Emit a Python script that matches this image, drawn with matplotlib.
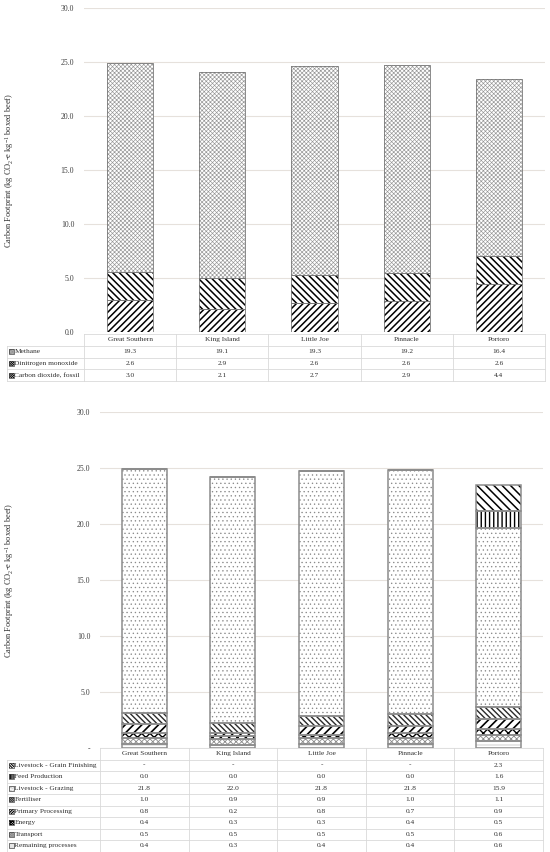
import numpy as np
import matplotlib
matplotlib.use("Agg")
import matplotlib.pyplot as plt
from matplotlib.patches import Rectangle

plt.rcParams['font.family'] = ['Liberation Serif', 'DejaVu Serif']
plt.rcParams['mathtext.fontset'] = 'custom'
plt.rcParams['mathtext.rm'] = 'Liberation Serif'
plt.rcParams['mathtext.it'] = 'Liberation Serif:italic'

# Datos
sitios = ["Great Southern", "King Island", "Little Joe", "Pinnacle", "Portoro"]

# grafico superior (por gas)
co2_fosil = [3.0, 2.1, 2.7, 2.9, 4.4]
n2o = [2.6, 2.9, 2.6, 2.6, 2.6]
metano = [19.3, 19.1, 19.3, 19.2, 16.4]

# grafico inferior (por proceso)
resto = [0.4, 0.3, 0.4, 0.4, 0.6]
transporte = [0.5, 0.5, 0.5, 0.5, 0.6]
energia = [0.4, 0.3, 0.3, 0.4, 0.5]
procesamiento = [0.8, 0.2, 0.8, 0.7, 0.9]
fertilizante = [1.0, 0.9, 0.9, 1.0, 1.1]
pastoreo = [21.8, 22.0, 21.8, 21.8, 15.9]
alimento = [0.0, 0.0, 0.0, 0.0, 1.6]
engorde = [np.nan, np.nan, np.nan, np.nan, 2.3]

etiqueta_y = "Carbon Footprint (kg CO$_2$-e kg$^{-1}$ boxed beef)"

# (nombre, valores, hatch, color, grosor) en orden de apilado
series_sup = [
    ("Carbon dioxide, fossil", co2_fosil, "/////", "black", 1.1),
    ("Dinitrogen monoxide", n2o, "\\\\\\\\\\", "black", 1.1),
    ("Methane", metano, "xxxxxxxx", "#959595", 0.45),
]
series_inf = [
    ("Remaining processes", resto, "-----", "#bdbdbd", 0.5),
    ("Transport", transporte, "xxxxxx", "#8a8a8a", 0.6),
    ("Energy", energia, "xxxx", "black", 1.0),
    ("Primary Processing", procesamiento, "////", "black", 1.2),
    ("Fertiliser", fertilizante, "\\\\\\\\\\\\", "#2a2a2a", 1.0),
    ("Livestock - Grazing", pastoreo, "....", "#8a8a8a", 0.45),
    ("Feed Production", alimento, "||||", "black", 1.0),
    ("Livestock - Grain Finishing", engorde, "\\\\\\\\", "black", 1.1),
]

W, H = 550, 852
fig = plt.figure(figsize=(W / 100, H / 100), dpi=100)
fs = 5.6
fs_tabla = 5.3


def ejes(x0, x1, ytop, ybot):
    return fig.add_axes([x0 / W, 1 - ybot / H, (x1 - x0) / W, (ybot - ytop) / H])


def graficar(ax, series, ancho, borde, lw_borde, cero):
    x = np.arange(len(sitios))
    base = np.zeros(len(sitios))
    for nombre, vals, hatch, color, lw in series:
        v = np.nan_to_num(np.array(vals, dtype=float))
        with plt.rc_context({'hatch.linewidth': lw}):
            barras = ax.bar(x, v, ancho, bottom=base, color="white", edgecolor=color,
                            hatch=hatch, linewidth=0, zorder=2)
            for b in barras:
                if hasattr(b, "set_hatch_linewidth"):
                    b.set_hatch_linewidth(lw)
        ax.bar(x, v, ancho, bottom=base, fill=False, edgecolor=borde,
               linewidth=lw_borde, zorder=3)
        base += v
    ax.set_xlim(-0.5, len(sitios) - 0.5)
    ax.set_ylim(0, 30)
    ax.set_yticks(np.arange(0, 31, 5))
    ax.set_yticklabels([cero] + [f"{t:.1f}" for t in np.arange(5, 31, 5)])
    ax.set_xticks([])
    ax.tick_params(axis="y", length=0, labelsize=fs, labelcolor="#404040", pad=7)
    for s in ax.spines.values():
        s.set_visible(False)
    ax.yaxis.grid(True, color="#e6e1dc", linewidth=0.8)
    ax.set_axisbelow(True)


def tabla(ov, x0, xc, x1, y0, rh, series, formato):
    filas = list(reversed(series))
    n = len(filas)
    cw = (x1 - xc) / len(sitios)
    yb = y0 + rh * (n + 1)
    lc, lw = "#d9d9d9", 0.6
    ov.plot([xc, x1], [y0, y0], color=lc, lw=lw)
    for k in range(1, n + 2):
        ov.plot([x0, x1], [y0 + rh * k] * 2, color=lc, lw=lw)
    ov.plot([x0, x0], [y0 + rh, yb], color=lc, lw=lw)
    for j in range(len(sitios) + 1):
        ov.plot([xc + j * cw] * 2, [y0, yb], color=lc, lw=lw)
    for j, s in enumerate(sitios):
        ov.text(xc + (j + 0.5) * cw, y0 + rh / 2, s, ha="center", va="center",
                fontsize=fs_tabla, color="#303030")
    for i, (nombre, vals, hatch, color, lw_h) in enumerate(filas):
        yc = y0 + rh * (i + 1.5)
        with plt.rc_context({'hatch.linewidth': lw_h * 0.7}):
            ov.add_patch(Rectangle((x0 + 1.5, yc - 2.5), 5, 5, facecolor="white",
                                   edgecolor=color, hatch=hatch * 3, lw=0))
        ov.add_patch(Rectangle((x0 + 1.5, yc - 2.5), 5, 5, fill=False,
                               edgecolor="#404040", lw=0.5))
        ov.text(x0 + 7.5, yc, nombre, ha="left", va="center", fontsize=fs_tabla,
                color="#303030")
        for j, v in enumerate(vals):
            ov.text(xc + (j + 0.5) * cw, yc, formato(v), ha="center", va="center",
                    fontsize=fs_tabla, color="#303030")


def fmt_guion(v):
    return "-" if np.isnan(v) else f"{v:.1f}"


ax1 = ejes(84, 545, 8, 332)
graficar(ax1, series_sup, 0.5, "#777777", 0.6, "0.0")
ax2 = ejes(100, 543, 412, 748)
graficar(ax2, series_inf, 0.51, "#8c8c8c", 1.1, "-")

fig.text(10 / W, 1 - 170 / H, etiqueta_y, rotation=90, ha="center", va="center",
         fontsize=6, color="#303030")
fig.text(10 / W, 1 - 580 / H, etiqueta_y, rotation=90, ha="center", va="center",
         fontsize=6, color="#303030")

ov = fig.add_axes([0, 0, 1, 1])
ov.set_xlim(0, W)
ov.set_ylim(H, 0)
ov.axis("off")
tabla(ov, 7, 84, 545, 334, 11.8, series_sup, lambda v: f"{v:.1f}")
tabla(ov, 7, 100, 543, 748, 11.5, series_inf, fmt_guion)

fig.savefig("out.png", dpi=100)
